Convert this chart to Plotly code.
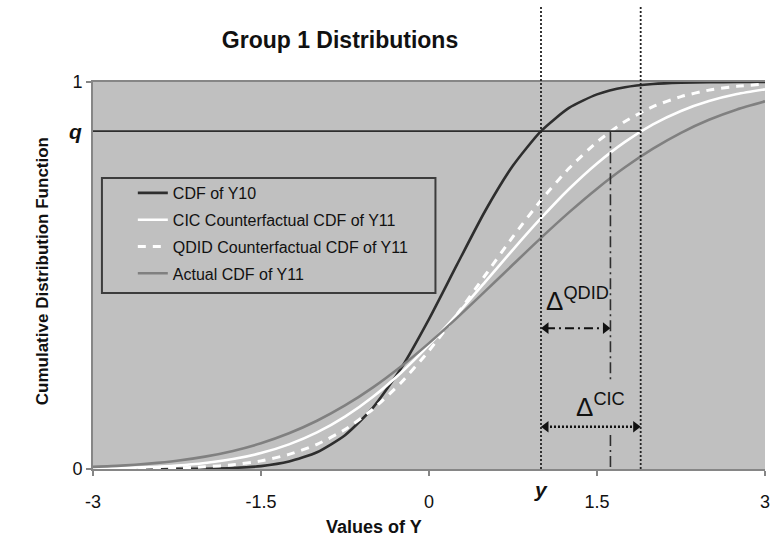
import plotly.graph_objects as go

# Grid of Y values and the four cumulative distribution functions
y_grid = [-3, -2.75, -2.5, -2.25, -2, -1.75, -1.5, -1.25, -1, -0.75, -0.5, -0.25,
          0, 0.25, 0.5, 0.75, 1, 1.25, 1.5, 1.75, 2, 2.25, 2.5, 2.75, 3]
cdf_y10 = [0.0, 0.0, 0.0001, 0.0002, 0.0008, 0.0027, 0.0075, 0.0192, 0.0433, 0.0874,
           0.1587, 0.260, 0.3875, 0.528, 0.666, 0.784, 0.873, 0.933, 0.968, 0.9866,
           0.9949, 0.9983, 0.9995, 0.9999, 1.0]
cdf_cic = [0.0013, 0.0026, 0.0049, 0.0088, 0.0153, 0.0256, 0.0412, 0.0636, 0.0945, 0.1353,
           0.1868, 0.2489, 0.3206, 0.3997, 0.483, 0.567, 0.648, 0.7235, 0.7896, 0.8454,
           0.8905, 0.9252, 0.9508, 0.9689, 0.981]
cdf_qdid = [0.0002, 0.0005, 0.0011, 0.0026, 0.0055, 0.0111, 0.0210, 0.0377, 0.0637, 0.1020,
            0.1548, 0.2230, 0.3057, 0.3997, 0.5, 0.6003, 0.6943, 0.777, 0.845, 0.898,
            0.9363, 0.9623, 0.979, 0.9889, 0.9945]
cdf_y11 = [0.0054, 0.0087, 0.0139, 0.0213, 0.0320, 0.0468, 0.0665, 0.0922, 0.1246, 0.1641,
           0.2110, 0.2650, 0.3253, 0.3905, 0.4589, 0.5283, 0.5972, 0.6631, 0.7244, 0.7796,
           0.8277, 0.8687, 0.9023, 0.9292, 0.950]

series_names = ["CDF of Y10", "CIC Counterfactual CDF of Y11",
                "QDID Counterfactual CDF of Y11", "Actual CDF of Y11"]

# Quantile q, the point y where CDF of Y10 reaches q, and the two counterfactual quantiles
q_level = 0.873
y_point = 1.0
x_qdid = 1.62
x_cic = 1.89
arrow_qdid_level = 0.364
arrow_cic_level = 0.109
label_gap = [0.23, 0.088]

x_ticks = [-3, -1.5, 0, 1.5, 3]
x_tick_text = ["-3", "-1.5", "0", "1.5", "3"]
y_ticks = [0, 1]
y_tick_text = ["0", "1"]

FONT = "Arial, Liberation Sans, sans-serif"
DARK = "#2e2e2e"
PLOT_BG = "#c0c0c0"
AXIS = "#868686"

fig = go.Figure()

styles = [
    dict(color=DARK, width=2.6),
    dict(color="#ffffff", width=2.6),
    dict(color="#ffffff", width=3, dash="8px,7px"),
    dict(color="#808080", width=2.6),
]
for i, (name, vals, st) in enumerate(zip(series_names,
                                         [cdf_y10, cdf_cic, cdf_qdid, cdf_y11], styles)):
    fig.add_trace(go.Scatter(x=y_grid, y=vals, mode="lines", name=name,
                             line=dict(shape="spline", smoothing=0.6, **st),
                             legendgroup=f"g{i}", hoverinfo="skip"))

# Arrow heads for the two treatment-effect intervals
px_per_unit = 675 / 6.0
head_off = 5 / px_per_unit
fig.add_trace(go.Scatter(
    x=[y_point + head_off, x_qdid - head_off, y_point + head_off, x_cic - head_off],
    y=[arrow_qdid_level, arrow_qdid_level, arrow_cic_level, arrow_cic_level],
    mode="markers", showlegend=False, hoverinfo="skip",
    marker=dict(symbol=["triangle-left", "triangle-right", "triangle-left", "triangle-right"],
                size=10, color="#111111", line=dict(width=0))))

shapes = [
    # q line across to the CIC quantile
    dict(type="line", xref="x", yref="y", x0=-3, x1=x_cic, y0=q_level, y1=q_level,
         line=dict(color=DARK, width=1.6)),
    # dotted verticals at y and at the CIC quantile, reaching above the plot
    dict(type="line", xref="x", yref="paper", x0=y_point, x1=y_point, y0=0, y1=1.199,
         line=dict(color="#222222", width=1.8, dash="2px,2px")),
    dict(type="line", xref="x", yref="paper", x0=x_cic, x1=x_cic, y0=0, y1=1.199,
         line=dict(color="#222222", width=1.8, dash="2px,2px")),
    # dash-dot vertical at the QDID quantile, broken around the CIC label
    dict(type="line", xref="x", yref="y", x0=x_qdid, x1=x_qdid, y0=q_level, y1=label_gap[0],
         line=dict(color=DARK, width=1.6, dash="11px,4px,2px,4px")),
    dict(type="line", xref="x", yref="y", x0=x_qdid, x1=x_qdid, y0=label_gap[1], y1=0,
         line=dict(color=DARK, width=1.6, dash="11px,4px,2px,4px")),
    # interval lines
    dict(type="line", xref="x", yref="y", x0=y_point + head_off, x1=x_qdid - head_off,
         y0=arrow_qdid_level, y1=arrow_qdid_level,
         line=dict(color="#111111", width=2, dash="9px,4px,2px,4px")),
    dict(type="line", xref="x", yref="y", x0=y_point + head_off, x1=x_cic - head_off,
         y0=arrow_cic_level, y1=arrow_cic_level,
         line=dict(color="#111111", width=2.5, dash="2px,2px")),
    # legend frame
    dict(type="rect", xref="paper", yref="paper", x0=0.0133, x1=0.5096, y0=0.4548, y1=0.752,
         line=dict(color="#3c3c3c", width=2), fillcolor="rgba(0,0,0,0)"),
]

annotations = [
    dict(text="<b><i>q</i></b>", xref="paper", yref="y", x=(75 - 93) / 675, y=q_level,
         xanchor="center", yanchor="middle", showarrow=False,
         font=dict(family=FONT, size=21, color="#111111")),
    dict(text="<b><i>y</i></b>", xref="x", yref="paper", x=y_point, y=(469 - 489) / 387,
         xanchor="center", yanchor="middle", showarrow=False,
         font=dict(family=FONT, size=21, color="#111111")),
    dict(text="Δ<sup>QDID</sup>", xref="x", yref="y", x=y_point, xshift=3,
         y=0.437, xanchor="left", yanchor="middle", showarrow=False,
         font=dict(family=FONT, size=26, color="#111111")),
    dict(text="Δ<sup>CIC</sup>", xref="x", yref="y", x=(y_point + x_cic) / 2, xshift=10,
         y=0.165, xanchor="center", yanchor="middle", showarrow=False,
         font=dict(family=FONT, size=26, color="#111111")),
    dict(text="<b>Values of Y</b>", xref="paper", yref="paper",
         x=(375 - 93) / 675, y=(469 - 527) / 387, xanchor="center", yanchor="middle",
         showarrow=False, font=dict(family=FONT, size=18, color="#111111")),
    dict(text="<b>Cumulative Distribution Function</b>", xref="paper", yref="paper",
         x=(42 - 93) / 675, y=(469 - 271) / 387, xanchor="center", yanchor="middle",
         textangle=-90, showarrow=False,
         font=dict(family=FONT, size=17, color="#111111")),
]

fig.update_layout(
    width=782, height=541,
    margin=dict(l=93, r=14, t=82, b=72),
    paper_bgcolor="#ffffff", plot_bgcolor=PLOT_BG,
    title=dict(text="<b>Group 1 Distributions</b>", xref="container", yref="container",
               x=340 / 782, y=1 - 40 / 541, xanchor="center", yanchor="middle",
               font=dict(family=FONT, size=23, color="#111111")),
    font=dict(family=FONT, size=16, color="#111111"),
    showlegend=True,
    legend=dict(x=(133 - 93) / 675, y=(469 - 176) / 387, xanchor="left", yanchor="top",
                bgcolor="rgba(0,0,0,0)", borderwidth=0, traceorder="grouped",
                tracegroupgap=3, font=dict(family=FONT, size=16, color="#111111")),
    xaxis=dict(range=[-3, 3], tickvals=x_ticks, ticktext=x_tick_text, showgrid=False,
               zeroline=False, showline=True, linecolor=AXIS, linewidth=2, mirror=True,
               ticks="outside", ticklen=5, tickcolor=AXIS, tickwidth=1.5,
               ticklabelstandoff=10, tickfont=dict(family=FONT, size=18, color="#111111")),
    yaxis=dict(range=[0, 1], tickvals=y_ticks, ticktext=y_tick_text, showgrid=False,
               zeroline=False, showline=True, linecolor=AXIS, linewidth=2,
               ticks="outside", ticklen=5, tickcolor=AXIS, tickwidth=1.5,
               tickfont=dict(family=FONT, size=18, color="#111111")),
    shapes=shapes, annotations=annotations,
)

fig.write_html("out.html")
